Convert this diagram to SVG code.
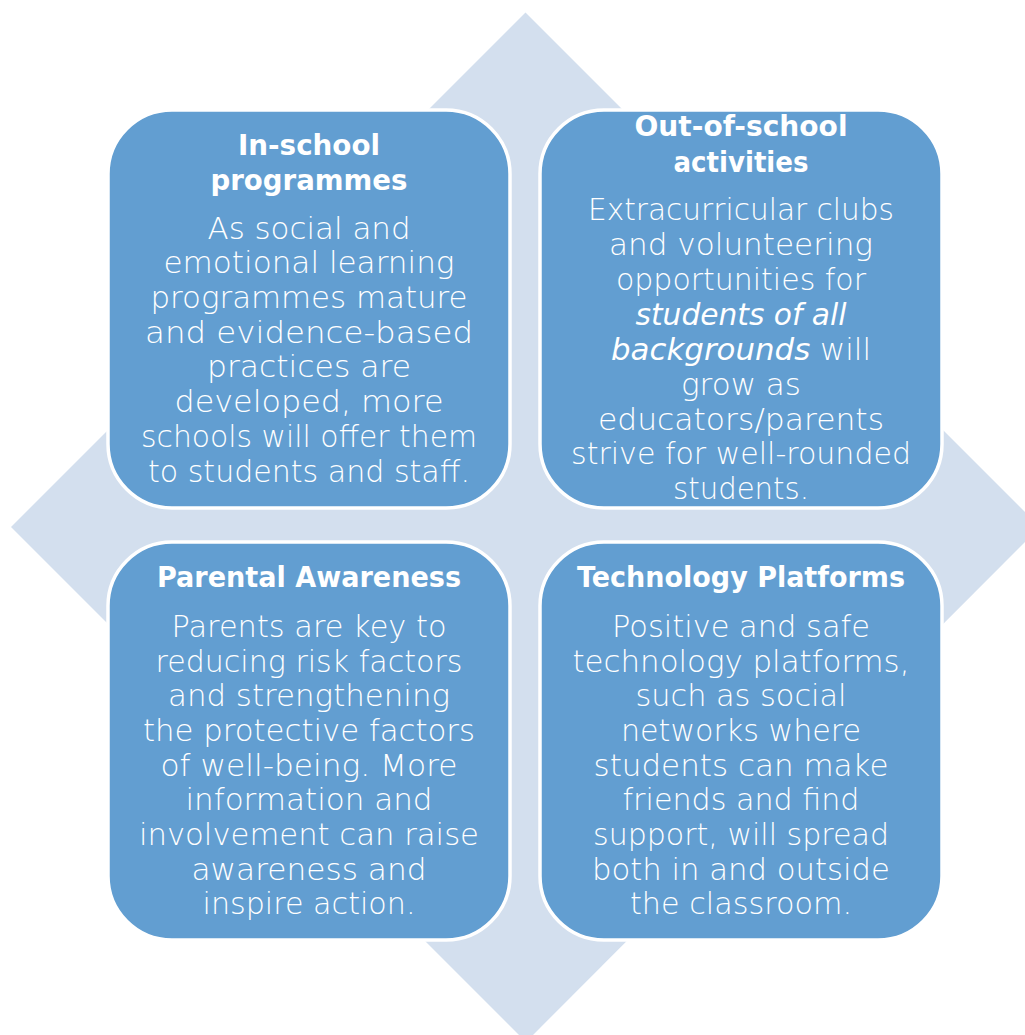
<svg xmlns="http://www.w3.org/2000/svg" width="1025" height="1035" viewBox="0 0 1025 1035">
<style>
.box{fill:#629ed1;stroke:#ffffff;stroke-width:3.5}
.t{font-family:"DejaVu Sans","Liberation Sans",sans-serif;font-weight:bold;font-size:28px;fill:#ffffff;text-anchor:middle}
.b{font-family:"DejaVu Sans","Liberation Sans",sans-serif;font-weight:300;font-size:30px;fill:#ffffff;text-anchor:middle}
.i{font-style:italic}
</style>
<rect width="1025" height="1035" fill="#ffffff"/>
<polygon points="525.5,12.5 1040,527 526,1042 11,527" fill="#d3dfee"/>
<g id="connectors"></g>
<g id="in-school">
<rect class="box" x="108" y="110" width="402" height="398" rx="64"/>
<text class="t" x="309" y="155" textLength="142" lengthAdjust="spacingAndGlyphs">In-school</text>
<text class="t" x="309" y="190" textLength="197" lengthAdjust="spacingAndGlyphs">programmes</text>
<text class="b" x="309" y="239" textLength="203" lengthAdjust="spacingAndGlyphs">As social and</text>
<text class="b" x="309" y="273" textLength="291" lengthAdjust="spacingAndGlyphs">emotional learning</text>
<text class="b" x="309" y="308" textLength="317" lengthAdjust="spacingAndGlyphs">programmes mature</text>
<text class="b" x="309" y="343" textLength="328" lengthAdjust="spacingAndGlyphs">and evidence-based</text>
<text class="b" x="309" y="377" textLength="204" lengthAdjust="spacingAndGlyphs">practices are</text>
<text class="b" x="309" y="412" textLength="269" lengthAdjust="spacingAndGlyphs">developed, more</text>
<text class="b" x="309" y="447" textLength="336" lengthAdjust="spacingAndGlyphs">schools will offer them</text>
<text class="b" x="309" y="482" textLength="322" lengthAdjust="spacingAndGlyphs">to students and staff.</text>
</g>
<g id="out-of-school">
<rect class="box" x="540" y="110" width="402" height="398" rx="64"/>
<text class="t" x="741" y="136" textLength="213" lengthAdjust="spacingAndGlyphs">Out-of-school</text>
<text class="t" x="741" y="172" textLength="135" lengthAdjust="spacingAndGlyphs">activities</text>
<text class="b" x="741" y="220" textLength="306" lengthAdjust="spacingAndGlyphs">Extracurricular clubs</text>
<text class="b" x="741" y="255" textLength="264" lengthAdjust="spacingAndGlyphs">and volunteering</text>
<text class="b" x="741" y="290" textLength="250" lengthAdjust="spacingAndGlyphs">opportunities for</text>
<text class="b i" x="741" y="325" textLength="211" lengthAdjust="spacingAndGlyphs">students of all</text>
<text class="b" x="741" y="360" textLength="260" lengthAdjust="spacingAndGlyphs"><tspan class="i">backgrounds</tspan> will</text>
<text class="b" x="741" y="395" textLength="120" lengthAdjust="spacingAndGlyphs">grow as</text>
<text class="b" x="741" y="430" textLength="286" lengthAdjust="spacingAndGlyphs">educators/parents</text>
<text class="b" x="741" y="464" textLength="340" lengthAdjust="spacingAndGlyphs">strive for well-rounded</text>
<text class="b" x="741" y="499" textLength="136" lengthAdjust="spacingAndGlyphs">students.</text>
</g>
<g id="parental-awareness">
<rect class="box" x="108" y="542" width="402" height="398" rx="64"/>
<text class="t" x="309" y="587" textLength="304" lengthAdjust="spacingAndGlyphs">Parental Awareness</text>
<text class="b" x="309" y="637" textLength="275" lengthAdjust="spacingAndGlyphs">Parents are key to</text>
<text class="b" x="309" y="672" textLength="307" lengthAdjust="spacingAndGlyphs">reducing risk factors</text>
<text class="b" x="309" y="706" textLength="282" lengthAdjust="spacingAndGlyphs">and strengthening</text>
<text class="b" x="309" y="741" textLength="332" lengthAdjust="spacingAndGlyphs">the protective factors</text>
<text class="b" x="309" y="776" textLength="297" lengthAdjust="spacingAndGlyphs">of well-being. More</text>
<text class="b" x="309" y="810" textLength="247" lengthAdjust="spacingAndGlyphs">information and</text>
<text class="b" x="309" y="845" textLength="340" lengthAdjust="spacingAndGlyphs">involvement can raise</text>
<text class="b" x="309" y="880" textLength="235" lengthAdjust="spacingAndGlyphs">awareness and</text>
<text class="b" x="309" y="914" textLength="213" lengthAdjust="spacingAndGlyphs">inspire action.</text>
</g>
<g id="technology-platforms">
<rect class="box" x="540" y="542" width="402" height="398" rx="64"/>
<text class="t" x="741" y="587" textLength="328" lengthAdjust="spacingAndGlyphs">Technology Platforms</text>
<text class="b" x="741" y="637" textLength="258" lengthAdjust="spacingAndGlyphs">Positive and safe</text>
<text class="b" x="741" y="672" textLength="337" lengthAdjust="spacingAndGlyphs">technology platforms,</text>
<text class="b" x="741" y="706" textLength="211" lengthAdjust="spacingAndGlyphs">such as social</text>
<text class="b" x="741" y="741" textLength="240" lengthAdjust="spacingAndGlyphs">networks where</text>
<text class="b" x="741" y="776" textLength="295" lengthAdjust="spacingAndGlyphs">students can make</text>
<text class="b" x="741" y="810" textLength="237" lengthAdjust="spacingAndGlyphs">friends and find</text>
<text class="b" x="741" y="845" textLength="296" lengthAdjust="spacingAndGlyphs">support, will spread</text>
<text class="b" x="741" y="880" textLength="298" lengthAdjust="spacingAndGlyphs">both in and outside</text>
<text class="b" x="741" y="914" textLength="222" lengthAdjust="spacingAndGlyphs">the classroom.</text>
</g>
</svg>
